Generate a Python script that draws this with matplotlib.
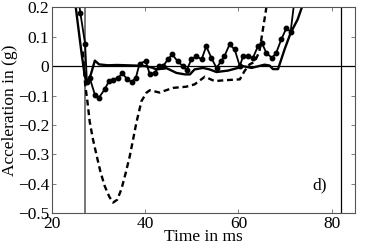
import matplotlib
matplotlib.use('Agg')
import matplotlib.pyplot as plt
from matplotlib.ticker import FuncFormatter

plt.rcParams['font.family'] = ['Liberation Serif', 'DejaVu Serif']
plt.rcParams['font.size'] = 12.5

# curve with markers
t_dots = [25.4, 26.1, 27.1, 27.5, 28.1, 29.2, 30.1, 31.3, 32.3, 33.1, 34.2, 35.1,
          36.2, 37.1, 38.0, 38.8, 40.1, 41.0, 42.1, 42.9, 43.8, 44.9, 45.8, 47.0,
          48.1, 48.9, 49.9, 51.0, 52.1, 53.1, 54.2, 55.3, 56.3, 57.0, 58.1, 59.2,
          60.3, 61.0, 62.0, 63.1, 64.2, 65.0, 66.0, 67.2, 68.1, 69.2, 70.3, 71.2, 72.3]
a_dots = [0.26, 0.18, 0.077, -0.055, -0.04, -0.097, -0.107, -0.079, -0.049, -0.046, -0.039, -0.025,
          -0.045, -0.054, -0.039, 0.009, 0.017, -0.028, -0.022, 0.0, 0.0, 0.023, 0.04, 0.016,
          0.0, -0.014, 0.023, 0.034, 0.023, 0.068, 0.028, -0.006, 0.017, 0.034, 0.074, 0.057,
          0.0, 0.034, 0.034, 0.028, 0.068, 0.08, 0.045, 0.028, 0.045, 0.091, 0.13, 0.117, 0.26]

# smooth solid curve
t_solid = [24.8, 25.5, 26.3, 27.0, 27.5, 28.3, 29.2, 30.1, 32.0, 34.0, 36.0, 38.0,
           40.0, 41.5, 42.4, 44.6, 46.7, 48.5, 49.6, 50.6, 52.4, 53.8, 55.3, 57.8,
           59.9, 61.0, 62.8, 65.6, 66.7, 67.4, 68.5, 69.9, 71.2, 72.7, 74.2, 75.0]
a_solid = [0.24, 0.15, 0.05, -0.03, -0.055, -0.03, 0.019, 0.006, 0.003, 0.004, 0.003, 0.002,
           0.0, -0.005, -0.011, -0.007, -0.023, -0.028, -0.028, -0.011, -0.006, -0.011, -0.02, -0.015,
           -0.006, 0.0, -0.006, 0.005, 0.002, -0.01, -0.01, 0.057, 0.113, 0.159, 0.227, 0.27]

# dashed curve
t_dash = [26.6, 27.1, 27.6, 28.1, 28.8, 29.6, 30.4, 31.3, 32.3, 33.1, 34.0, 34.9,
          35.8, 36.7, 37.4, 38.1, 39.2, 40.3, 41.0, 43.1, 44.5, 46.0, 48.8, 50.6,
          52.8, 54.9, 57.0, 60.3, 61.3, 62.4, 63.5, 64.5, 65.2, 65.9, 66.4]
a_dash = [0.05, -0.06, -0.12, -0.19, -0.25, -0.306, -0.36, -0.408, -0.445, -0.465, -0.455, -0.419,
          -0.365, -0.306, -0.25, -0.193, -0.119, -0.09, -0.082, -0.09, -0.082, -0.074, -0.07, -0.062,
          -0.036, -0.051, -0.048, -0.045, -0.017, 0.006, 0.015, 0.05, 0.12, 0.19, 0.25]

t_start = 27.0
t_end = 82.0

fig = plt.figure(figsize=(3.74, 2.49), dpi=100)
ax = fig.add_axes([0.139, 0.145, 0.81, 0.825])

ax.axhline(0, color='black', lw=0.9)
ax.axvline(t_start, color='#777777', lw=1.4)
ax.axvline(t_end, color='black', lw=0.9)

ax.plot(t_dash, a_dash, color='black', lw=1.7, ls=(0, (2.5, 1.6)))
ax.plot(t_solid, a_solid, color='black', lw=1.7)
ax.plot(t_dots, a_dots, color='black', lw=1.3, marker='o', ms=3.2)

ax.text(77.4, -0.405, 'd)', ha='center', va='center')

ax.set_xlim(20, 85)
ax.set_ylim(-0.5, 0.2)
ax.set_xticks([20, 40, 60, 80])
ax.set_yticks([-0.5, -0.4, -0.3, -0.2, -0.1, 0, 0.1, 0.2])
ax.yaxis.set_major_formatter(FuncFormatter(lambda v, p: '0' if abs(v) < 1e-9 else ('%.1f' % v).replace('-', '\u2212')))
ax.tick_params(direction='in', top=True, right=True, length=3, width=0.6, color='#666666', pad=2)
for s in ax.spines.values():
    s.set_color('#555555')
    s.set_linewidth(0.8)

ax.set_xlabel('Time in ms', labelpad=-2)
ax.set_ylabel('Acceleration in (g)', labelpad=0)

fig.savefig('out.png', dpi=100)
